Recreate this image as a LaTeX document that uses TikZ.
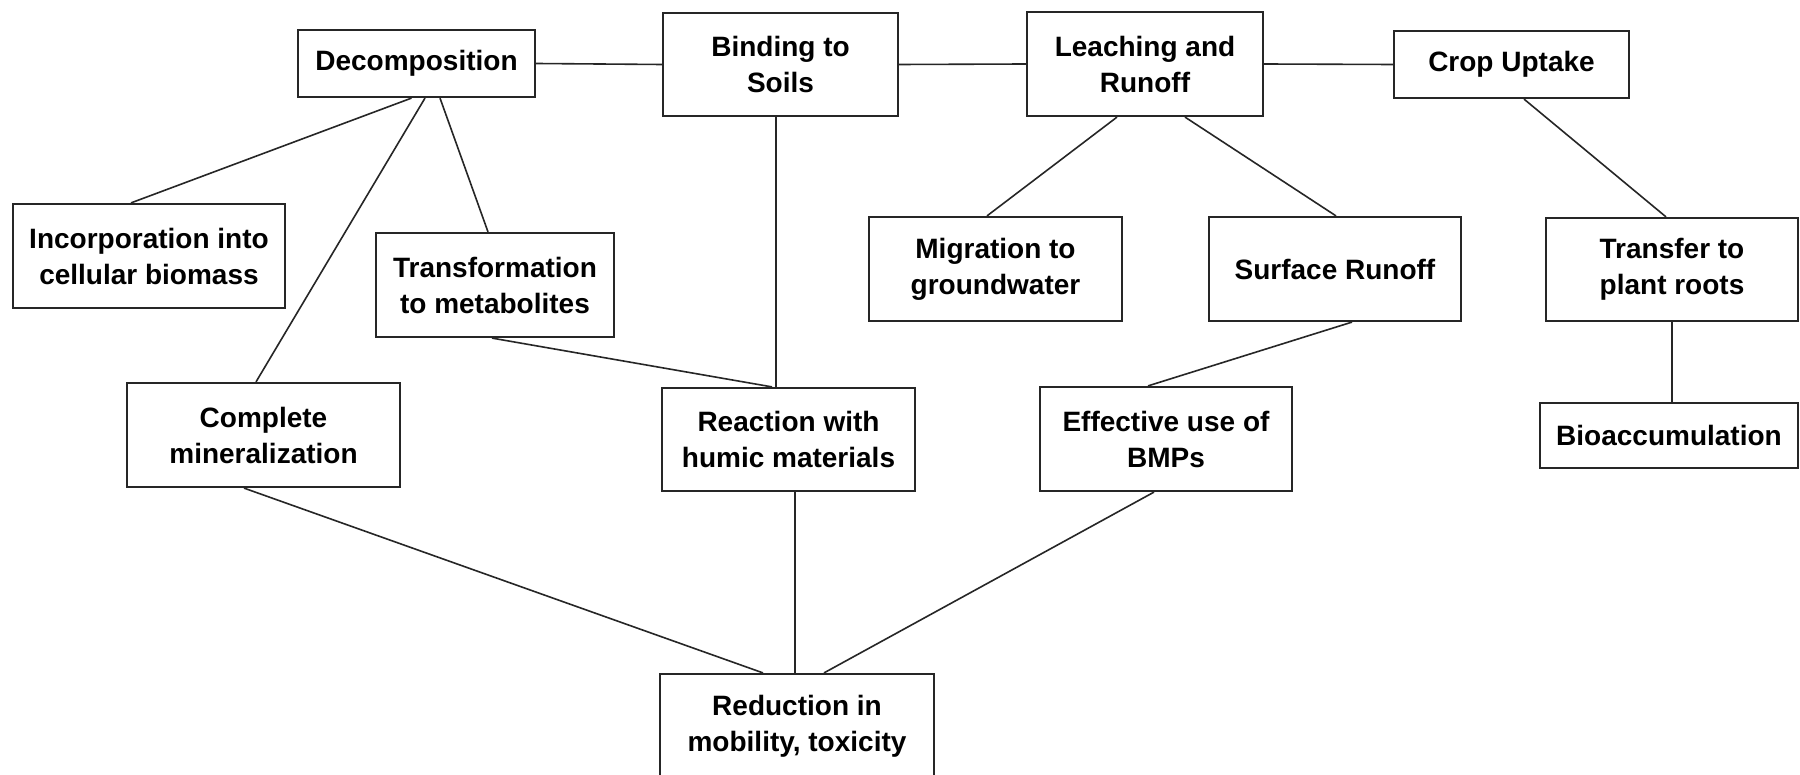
\documentclass[tikz,border=0pt]{standalone}
\usepackage{fontspec}
\setmainfont{Liberation Sans}
\begin{document}
\begin{tikzpicture}[x=1pt,y=-1pt,
  box/.style={draw=black!85, line width=2.2pt, fill=white, align=center, inner sep=0pt,
    font=\fontsize{28}{36}\selectfont\bfseries},
  link/.style={draw=black!85, line width=1.6pt}]
\useasboundingbox (0,0) rectangle (1800,775);
\fill[white] (0,0) rectangle (1800,775);
% top row
\node[box, minimum width=237pt, minimum height=67pt] (dec) at (416.5,63.5) {Decomposition};
\node[box, minimum width=235pt, minimum height=103pt] (bind) at (780.5,64.5) {Binding to\\Soils};
\node[box, minimum width=236pt, minimum height=104pt] (leach) at (1145,64) {Leaching and\\Runoff};
\node[box, minimum width=235pt, minimum height=67pt] (crop) at (1511.5,64.5) {Crop Uptake};
% second row
\node[box, minimum width=272pt, minimum height=104pt] (inc) at (149,256) {Incorporation into\\cellular biomass};
\node[box, minimum width=238pt, minimum height=104pt] (trans) at (495,285) {Transformation\\to metabolites};
\node[box, minimum width=253pt, minimum height=104pt] (migr) at (995.5,269) {Migration to\\groundwater};
\node[box, minimum width=252pt, minimum height=104pt] (surf) at (1335,269) {Surface Runoff};
\node[box, minimum width=252pt, minimum height=103pt] (transf) at (1672,269.5) {Transfer to\\plant roots};
% third row
\node[box, minimum width=273pt, minimum height=104pt] (comp) at (263.5,435) {Complete\\mineralization};
\node[box, minimum width=253pt, minimum height=103pt] (react) at (788.5,439.5) {Reaction with\\humic materials};
\node[box, minimum width=252pt, minimum height=104pt] (eff) at (1166,439) {Effective use of\\BMPs};
\node[box, minimum width=258pt, minimum height=65pt] (bio) at (1669,435.5) {Bioaccumulation};
% bottom
\node[box, minimum width=274pt, minimum height=104pt] (red) at (797,726) {Reduction in\\mobility, toxicity};
% connectors
\draw[link] (dec.east) -- (bind.west);
\draw[link] (bind.east) -- (leach.west);
\draw[link] (leach.east) -- (crop.west);
\draw[link] ([xshift=-5pt]dec.south) -- ([xshift=-18pt]inc.north);
\draw[link] ([xshift=8.5pt]dec.south) -- ([xshift=-7.5pt]comp.north);
\draw[link] ([xshift=23.5pt]dec.south) -- ([xshift=-7pt]trans.north);
\draw[link] ([xshift=-4.5pt]bind.south) -- ([xshift=-12.5pt]react.north);
\draw[link] ([xshift=-3pt]trans.south) -- ([xshift=-16.5pt]react.north);
\draw[link] ([xshift=-28pt]leach.south) -- ([xshift=-8.5pt]migr.north);
\draw[link] ([xshift=40pt]leach.south) -- ([xshift=1pt]surf.north);
\draw[link] ([xshift=12.5pt]crop.south) -- ([xshift=-6pt]transf.north);
\draw[link] ([xshift=17pt]surf.south) -- ([xshift=-18pt]eff.north);
\draw[link] (transf.south) -- ([xshift=3pt]bio.north);
\draw[link] ([xshift=-19.5pt]comp.south) -- ([xshift=-34pt]red.north);
\draw[link] ([xshift=6.5pt]react.south) -- ([xshift=-2pt]red.north);
\draw[link] ([xshift=-12pt]eff.south) -- ([xshift=27pt]red.north);
\end{tikzpicture}
\end{document}
